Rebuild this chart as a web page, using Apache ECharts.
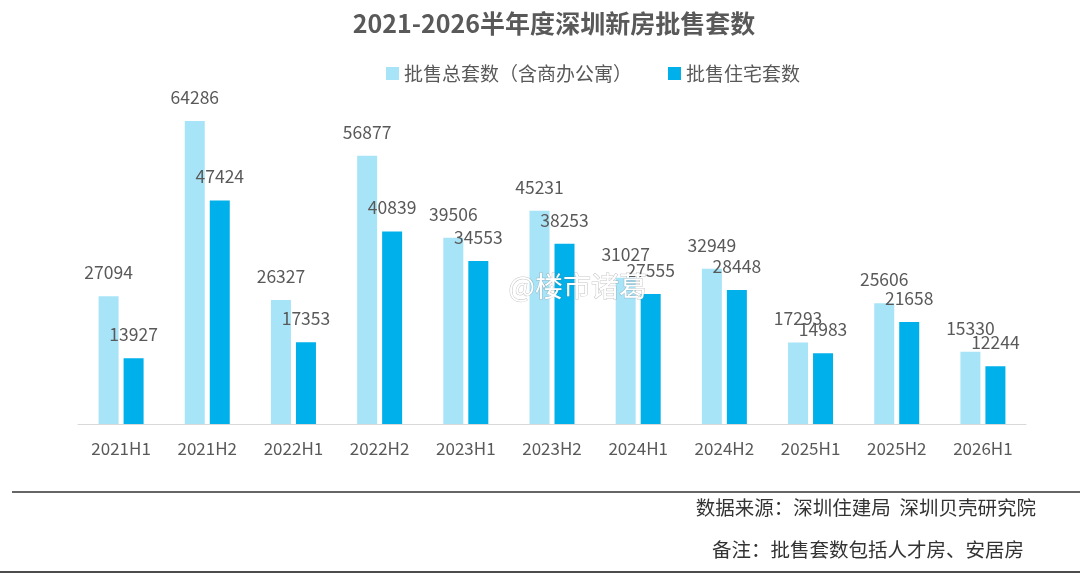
<!DOCTYPE html>
<html>
<head>
<meta charset="utf-8">
<title>2021-2026半年度深圳新房批售套数</title>
<script src="https://cdn.jsdelivr.net/npm/echarts@6/dist/echarts.min.js"></script>
<style>
body{margin:0;background:#fff;}
#main{width:1080px;height:573px;}
</style>
</head>
<body>
<div id="main"></div>
<script>
// 半年度
var periods = ['2021H1','2021H2','2022H1','2022H2','2023H1','2023H2','2024H1','2024H2','2025H1','2025H2','2026H1'];
// 批售总套数（含商办公寓）
var totalUnits = [27094, 64286, 26327, 56877, 39506, 45231, 31027, 32949, 17293, 25606, 15330];
// 批售住宅套数
var homeUnits = [13927, 47424, 17353, 40839, 34553, 38253, 27555, 28448, 14983, 21658, 12244];

var FONT = '"Noto Sans CJK SC", "Open Sans", sans-serif';
var labelStyle = {
	show: true,
	position: 'top',
	distance: 15,
	color: '#595959',
	fontSize: 17.5,
	fontFamily: FONT
};

var myChart = echarts.init(document.getElementById('main'));
var option = {
	backgroundColor: '#fff',
	animation: false,
	title: {
		text: '2021-2026半年度深圳新房批售套数',
		left: 549,
		textAlign: 'center',
		top: 6,
		textStyle: {color: '#595959', fontSize: 25, fontWeight: 'bold', fontFamily: FONT}
	},
	legend: {
		top: 59,
		left: 381,
		itemGap: 36,
		itemWidth: 13,
		itemHeight: 13,
		icon: 'rect',
		textStyle: {color: '#595959', fontSize: 19, fontFamily: FONT},
		data: ['批售总套数（含商办公寓）', '批售住宅套数']
	},
	grid: {left: 78, right: 54, top: 94, bottom: 149},
	xAxis: {
		type: 'category',
		data: periods,
		axisLine: {lineStyle: {color: '#d9d9d9', width: 1}},
		axisTick: {show: false},
		axisLabel: {color: '#595959', fontSize: 17, fontFamily: FONT, margin: 16}
	},
	yAxis: {
		type: 'value',
		min: 0,
		max: 70000,
		show: false,
		splitLine: {show: false}
	},
	series: [{
		name: '批售总套数（含商办公寓）',
		type: 'bar',
		barWidth: 20,
		barGap: '25%',
		itemStyle: {color: '#A8E4F8'},
		label: labelStyle,
		data: totalUnits
	}, {
		name: '批售住宅套数',
		type: 'bar',
		barWidth: 20,
		itemStyle: {color: '#00B0EA'},
		label: labelStyle,
		data: homeUnits
	}],
	graphic: [
		// 水印
		{type: 'text', left: 508, top: 272, z: 100, style: {
			text: '@楼市诸葛', fill: '#fff', fontSize: 28, fontFamily: FONT,
			stroke: 'rgba(110,110,110,0.4)', lineWidth: 1,
			shadowColor: 'rgba(0,0,0,0.4)', shadowBlur: 3
		}},
		// 分割线
		{type: 'line', shape: {x1: 12, y1: 492, x2: 1080, y2: 492}, style: {stroke: '#333', lineWidth: 1.5}},
		{type: 'line', shape: {x1: 0, y1: 572, x2: 1080, y2: 572}, style: {stroke: '#111', lineWidth: 1.5}},
		{type: 'text', right: 44, top: 498, style: {
			text: '数据来源：深圳住建局  深圳贝壳研究院', fill: '#333', fontSize: 19.5, fontFamily: FONT
		}},
		{type: 'text', right: 56, top: 540, style: {
			text: '备注：批售套数包括人才房、安居房', fill: '#333', fontSize: 19.5, fontFamily: FONT
		}}
	]
};
myChart.setOption(option);
</script>
</body>
</html>
